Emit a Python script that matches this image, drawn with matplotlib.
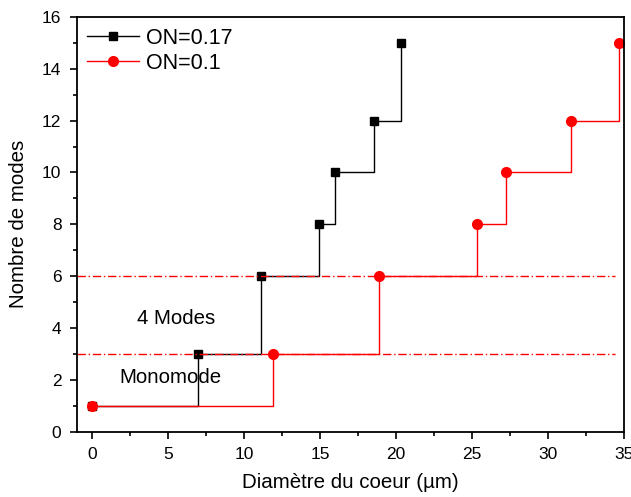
import matplotlib
matplotlib.use("Agg")
import matplotlib.pyplot as plt
from matplotlib.ticker import MultipleLocator

plt.rcParams['font.family'] = ['Liberation Sans', 'DejaVu Sans']

# Data
d_on017 = [0, 7.0, 11.1, 14.95, 16.0, 18.55, 20.35]
n_on017 = [1, 3, 6, 8, 10, 12, 15]
d_on01 = [0, 11.9, 18.9, 25.35, 27.25, 31.5, 34.65]
n_on01 = [1, 3, 6, 8, 10, 12, 15]
limit_levels = [6, 3]
labels = ["ON=0.17", "ON=0.1"]

fig = plt.figure(figsize=(6.31, 4.97), dpi=100)
ax = fig.add_axes([0.1216, 0.1314, 0.989 - 0.1216, 0.966 - 0.1314])

ax.plot(d_on017, n_on017, drawstyle='steps-post', color='black', lw=1.0,
        marker='s', markersize=5.8, label=labels[0])
ax.plot(d_on01, n_on01, drawstyle='steps-post', color='red', lw=1.0,
        marker='o', markersize=7.0, label=labels[1])

for lv in limit_levels:
    ax.plot([-1, 34.4], [lv, lv], color='red', lw=1.0, ls='-.', dashes=(6, 2, 1, 2))

ax.text(5.55, 4.38, "4 Modes", fontsize=14.7, ha='center', va='center')
ax.text(5.15, 2.08, "Monomode", fontsize=14.7, ha='center', va='center')

ax.set_xlim(-1, 35)
ax.set_ylim(0, 16)
ax.xaxis.set_major_locator(MultipleLocator(5))
ax.xaxis.set_minor_locator(MultipleLocator(2.5))
ax.yaxis.set_major_locator(MultipleLocator(2))
ax.yaxis.set_minor_locator(MultipleLocator(1))
ax.tick_params(which='both', direction='out', top=False, right=False, labelsize=12.5)
ax.tick_params(which='major', length=5, width=1.2, pad=6)
ax.tick_params(which='minor', length=3, width=1.2)
for s in ax.spines.values():
    s.set_linewidth(1.3)

ax.set_xlabel("Diamètre du coeur (µm)", fontsize=14.8, labelpad=8)
ax.set_ylabel("Nombre de modes", fontsize=14.8, labelpad=10)

ax.legend(loc='upper left', frameon=False, fontsize=15.5, handlelength=2.4,
          handletextpad=0.3, borderaxespad=0.3, labelspacing=0.2,
          borderpad=0.2)

fig.savefig("out.png", dpi=100)
